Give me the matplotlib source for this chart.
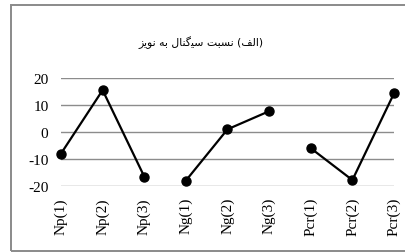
import matplotlib
matplotlib.use("Agg")
import matplotlib.pyplot as plt
from matplotlib.patches import Rectangle
import numpy as np

categories = ["Np(1)", "Np(2)", "Np(3)", "Ng(1)", "Ng(2)", "Ng(3)", "Pcr(1)", "Pcr(2)", "Pcr(3)"]
groups = [0, 0, 0, 1, 1, 1, 2, 2, 2]
values = [-8, 15.5, -16.5, -18, 1, 7.7, -6, -17.8, 14.3]
yticks = [-20, -10, 0, 10, 20]

# Persian title "(الف) نسبت سیگنال به نویز" shaped with presentation forms (logical order per word)
words_logical = [
    "(" + "\uFE8D\uFEDF\uFED2" + ")",          # (الف)
    "\uFEE7\uFEB4\uFE92\uFE96",                # نسبت
    "\uFEB3\uFBFF\uFB94\uFEE8\uFE8E\uFEDD",    # سیگنال
    "\uFE91\uFEEA",                            # به
    "\uFEE7\uFEEE\uFBFE\uFEB0",                # نویز
]

def visual(word):
    if word.startswith("(") and word.endswith(")"):
        return "(" + word[1:-1][::-1] + ")"
    return word[::-1]

title = " ".join(visual(w) for w in words_logical[::-1])

W, H = 406, 253
fig = plt.figure(figsize=(W / 100, H / 100), dpi=100)
fig.patch.set_facecolor("white")

fig.patches.append(Rectangle((11 / W, 1.5 / H), 1.1, (251 - 5.5) / H,
                             transform=fig.transFigure, fill=False,
                             edgecolor="#8a8a8a", lw=1.4))

ax = fig.add_axes([61 / W, (H - 187) / H, (394 - 61) / W, (187 - 79) / H])
x = np.arange(len(categories))
for g in sorted(set(groups)):
    idx = [i for i, gg in enumerate(groups) if gg == g]
    ax.plot(x[idx], [values[i] for i in idx], color="black", lw=1.6,
            marker="o", markersize=6.5, clip_on=False, zorder=3)

ax.set_xlim(0, len(categories) - 1)
ax.set_ylim(-20, 20)
ax.set_yticks(yticks)
ax.set_yticklabels([str(v) for v in yticks], fontfamily="Liberation Serif", fontsize=11)
ax.set_xticks(x)
ax.set_xticklabels(categories, rotation=90, fontfamily="Liberation Serif", fontsize=11)
ax.tick_params(axis="both", length=0)
ax.tick_params(axis="y", pad=9)
ax.tick_params(axis="x", pad=8)
for s in ax.spines.values():
    s.set_visible(False)
for v in yticks:
    ax.axhline(v, color="#8c8c8c", lw=1.0, zorder=1)

fig.text(201 / W, 1 - 43 / H, title, ha="center", va="center",
         fontfamily="DejaVu Sans", fontsize=7.8)

fig.savefig("out.png", dpi=100)
